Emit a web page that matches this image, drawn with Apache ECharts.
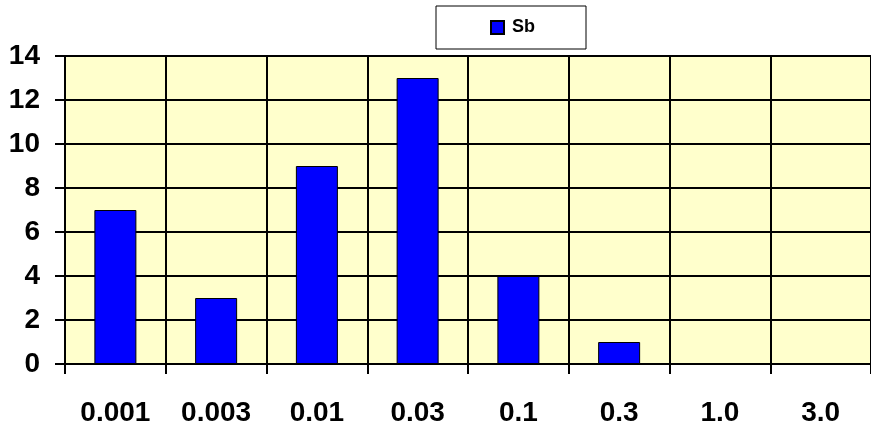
<!DOCTYPE html>
<html>
<head>
<meta charset="utf-8">
<script src="https://cdn.jsdelivr.net/npm/echarts@6/dist/echarts.min.js"></script>
<style>
  html, body { margin: 0; padding: 0; background: #ffffff; }
  #chart { width: 871px; height: 430px; }
</style>
</head>
<body>
<div id="chart"></div>
<script>
// Concentration classes and counts per class
var categories = ['0.001', '0.003', '0.01', '0.03', '0.1', '0.3', '1.0', '3.0'];
var sbCounts = [7, 3, 9, 13, 4, 1, 0, 0];
var seriesName = 'Sb';
var yMin = 0, yMax = 14, yStep = 2;

var chart = echarts.init(document.getElementById('chart'), null, { renderer: 'canvas' });
var font = '"Liberation Sans", Arial, sans-serif';

chart.setOption({
  animation: false,
  backgroundColor: '#ffffff',
  legend: {
    data: [seriesName],
    left: 436,
    top: 6,
    padding: [12, 51, 12, 54],
    backgroundColor: '#ffffff',
    borderColor: '#000000',
    borderWidth: 1,
    itemWidth: 13,
    itemHeight: 13,
    icon: 'rect',
    textStyle: { fontFamily: font, fontWeight: 'bold', fontSize: 18, color: '#000', lineHeight: 19, padding: [0, 0, 0, 3] }
  },
  grid: {
    left: 65,
    top: 56,
    width: 816,
    height: 308,
    show: true,
    backgroundColor: '#FFFFCC',
    borderColor: '#808080',
    borderWidth: 1,
    containLabel: false
  },
  xAxis: {
    type: 'category',
    data: categories,
    boundaryGap: true,
    axisLine: { show: true, lineStyle: { color: '#000', width: 2 } },
    axisTick: { show: true, interval: 0, length: 10, lineStyle: { color: '#000', width: 2 } },
    splitLine: { show: true, interval: 0, lineStyle: { color: '#000', width: 2 } },
    axisLabel: { interval: 0, margin: 35, fontFamily: font, fontWeight: 'bold', fontSize: 28, color: '#000' }
  },
  yAxis: {
    type: 'value',
    min: yMin,
    max: yMax,
    interval: yStep,
    axisLine: { show: true, lineStyle: { color: '#000', width: 2 } },
    axisTick: { show: true, length: 10, lineStyle: { color: '#000', width: 2 } },
    splitLine: { show: true, lineStyle: { color: '#000', width: 2 } },
    axisLabel: { margin: 25, fontFamily: font, fontWeight: 'bold', fontSize: 28, color: '#000' }
  },
  series: [{
    name: seriesName,
    type: 'bar',
    data: sbCounts,
    barWidth: 42,
    itemStyle: { color: '#0000FF', borderColor: '#000000', borderWidth: 1 }
  }]
});
</script>
</body>
</html>
